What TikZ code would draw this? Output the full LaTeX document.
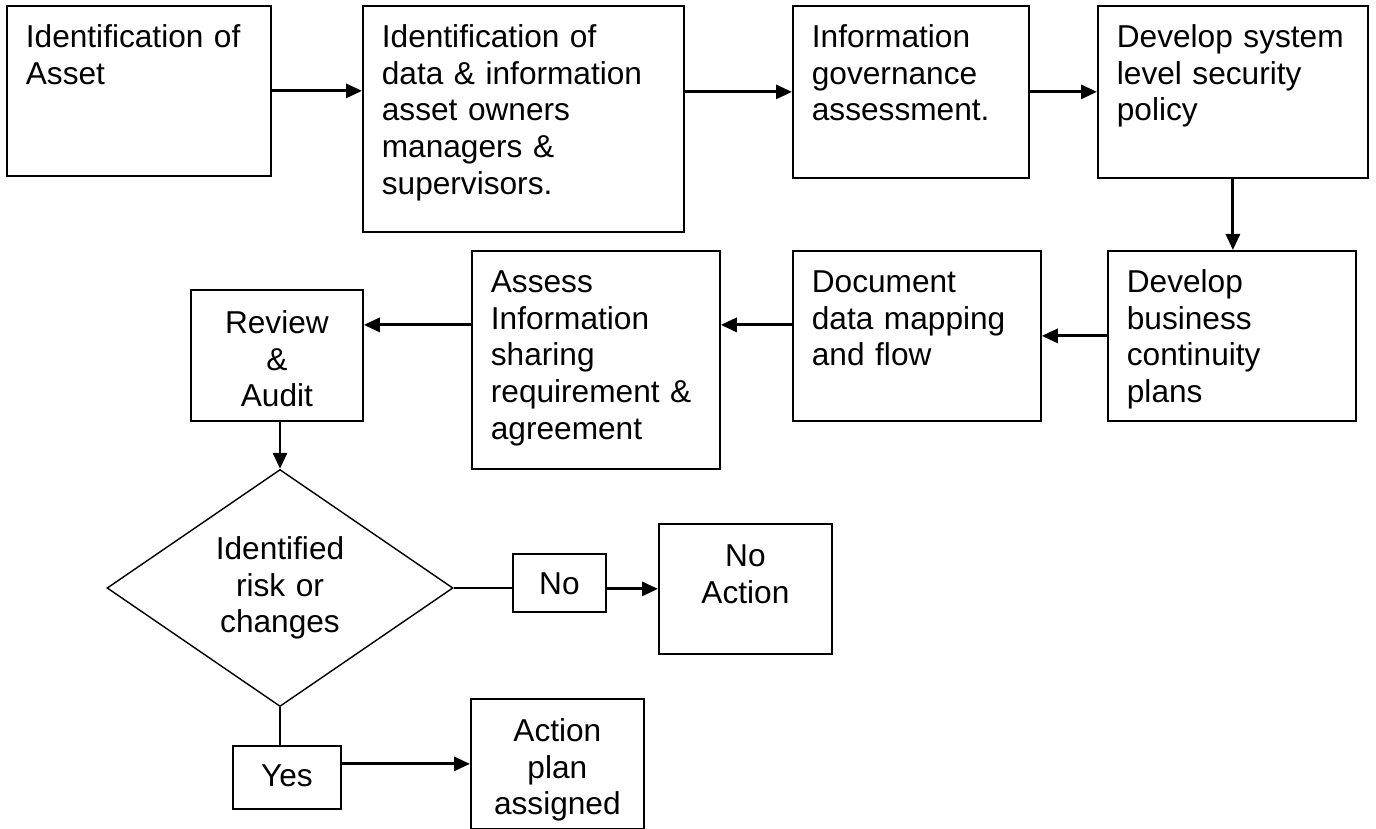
\documentclass[tikz,border=0pt]{standalone}
\usepackage{fontspec}
\setmainfont{Liberation Sans}
\usetikzlibrary{shapes.geometric}
\usetikzlibrary{arrows.meta}

\tikzset{
    txt/.style={font=\fontsize{18}{20.8}\selectfont},
    box/.style={txt, draw, line width=1pt, anchor=north west, align=left,
        inner xsep=0.38cm, inner ysep=0pt, text height=0.84cm},
    cbox/.style={box, align=center},
    arr/.style={line width=1.7pt, -{Triangle[length=0.32cm,width=0.28cm]}},
    link/.style={line width=1.7pt},
}

\begin{document}
\begin{tikzpicture}
    \useasboundingbox (0,0) rectangle (27.52,-16.58);
    % first row
    \node[box, text width=4.52cm, text depth=2.56cm] (asset) at (0.12,-0.10) {Identification of\\Asset};
    \node[box, text width=5.66cm, text depth=3.68cm] (owners) at (7.24,-0.10) {Identification of\\data \& information\\asset owners\\managers \&\\supervisors.};
    \node[box, text width=3.96cm, text depth=2.60cm] (govern) at (15.84,-0.10) {Information\\governance\\assessment.};
    \node[box, text width=4.64cm, text depth=2.60cm] (policy) at (21.94,-0.10) {Develop system\\level security\\policy};
    % second row
    \node[box, text width=4.20cm, text depth=2.56cm] (plans) at (22.14,-5.00) {Develop\\business\\continuity\\plans};
    \node[box, text width=4.20cm, text depth=2.56cm] (mapping) at (15.84,-5.00) {Document\\data mapping\\and flow};
    \node[box, text width=4.20cm, text depth=3.52cm] (sharing) at (9.42,-5.00) {Assess\\Information\\sharing\\requirement \&\\agreement};
    \node[cbox, text width=2.68cm, text height=0.88cm, text depth=1.74cm] (review) at (3.80,-5.78) {Review\\\&\\Audit};
    % decision
    \node[txt, diamond, draw, line width=0.8pt, minimum width=6.92cm, minimum height=4.74cm,
        inner sep=0pt, text width=2.6cm, align=center] (check) at (5.60,-11.76) {Identified\\risk or\\changes};
    \node[cbox, text width=1.10cm, text height=0.82cm, text depth=0.34cm] (no) at (10.24,-11.06) {No};
    \node[cbox, text width=2.70cm, text height=0.86cm, text depth=1.74cm] (noaction) at (13.16,-10.46) {No\\Action};
    \node[cbox, text width=1.40cm, text height=0.82cm, text depth=0.44cm] (yes) at (4.64,-14.90) {Yes};
    \node[cbox, text width=2.70cm, text height=0.86cm, text depth=1.74cm] (actplan) at (9.40,-13.96) {Action\\plan\\assigned};

    \draw[arr] (asset.east) -- (asset.east -| owners.west);
    \draw[arr] (owners.east |- govern.west) -- (govern.west);
    \draw[arr] (govern) -- (policy);
    \draw[arr] (policy.south) -- (policy.south |- plans.north);
    \draw[arr] (plans) -- (mapping);
    \coordinate (back) at ([yshift=0.22cm]mapping.west);
    \draw[arr] (back) -- (back -| sharing.east);
    \draw[arr] (back -| sharing.west) -- (back -| review.east);
    \draw[arr] (check.north |- review.south) -- (check.north);
    \draw[link] (check.east) -- (check.east -| no.west);
    \draw[arr] (no.east |- noaction.west) -- (noaction.west);
    \draw[link] (check.south) -- (check.south |- yes.north);
    \draw[arr] (yes.east |- actplan.west) -- (actplan.west);
\end{tikzpicture}
\end{document}
